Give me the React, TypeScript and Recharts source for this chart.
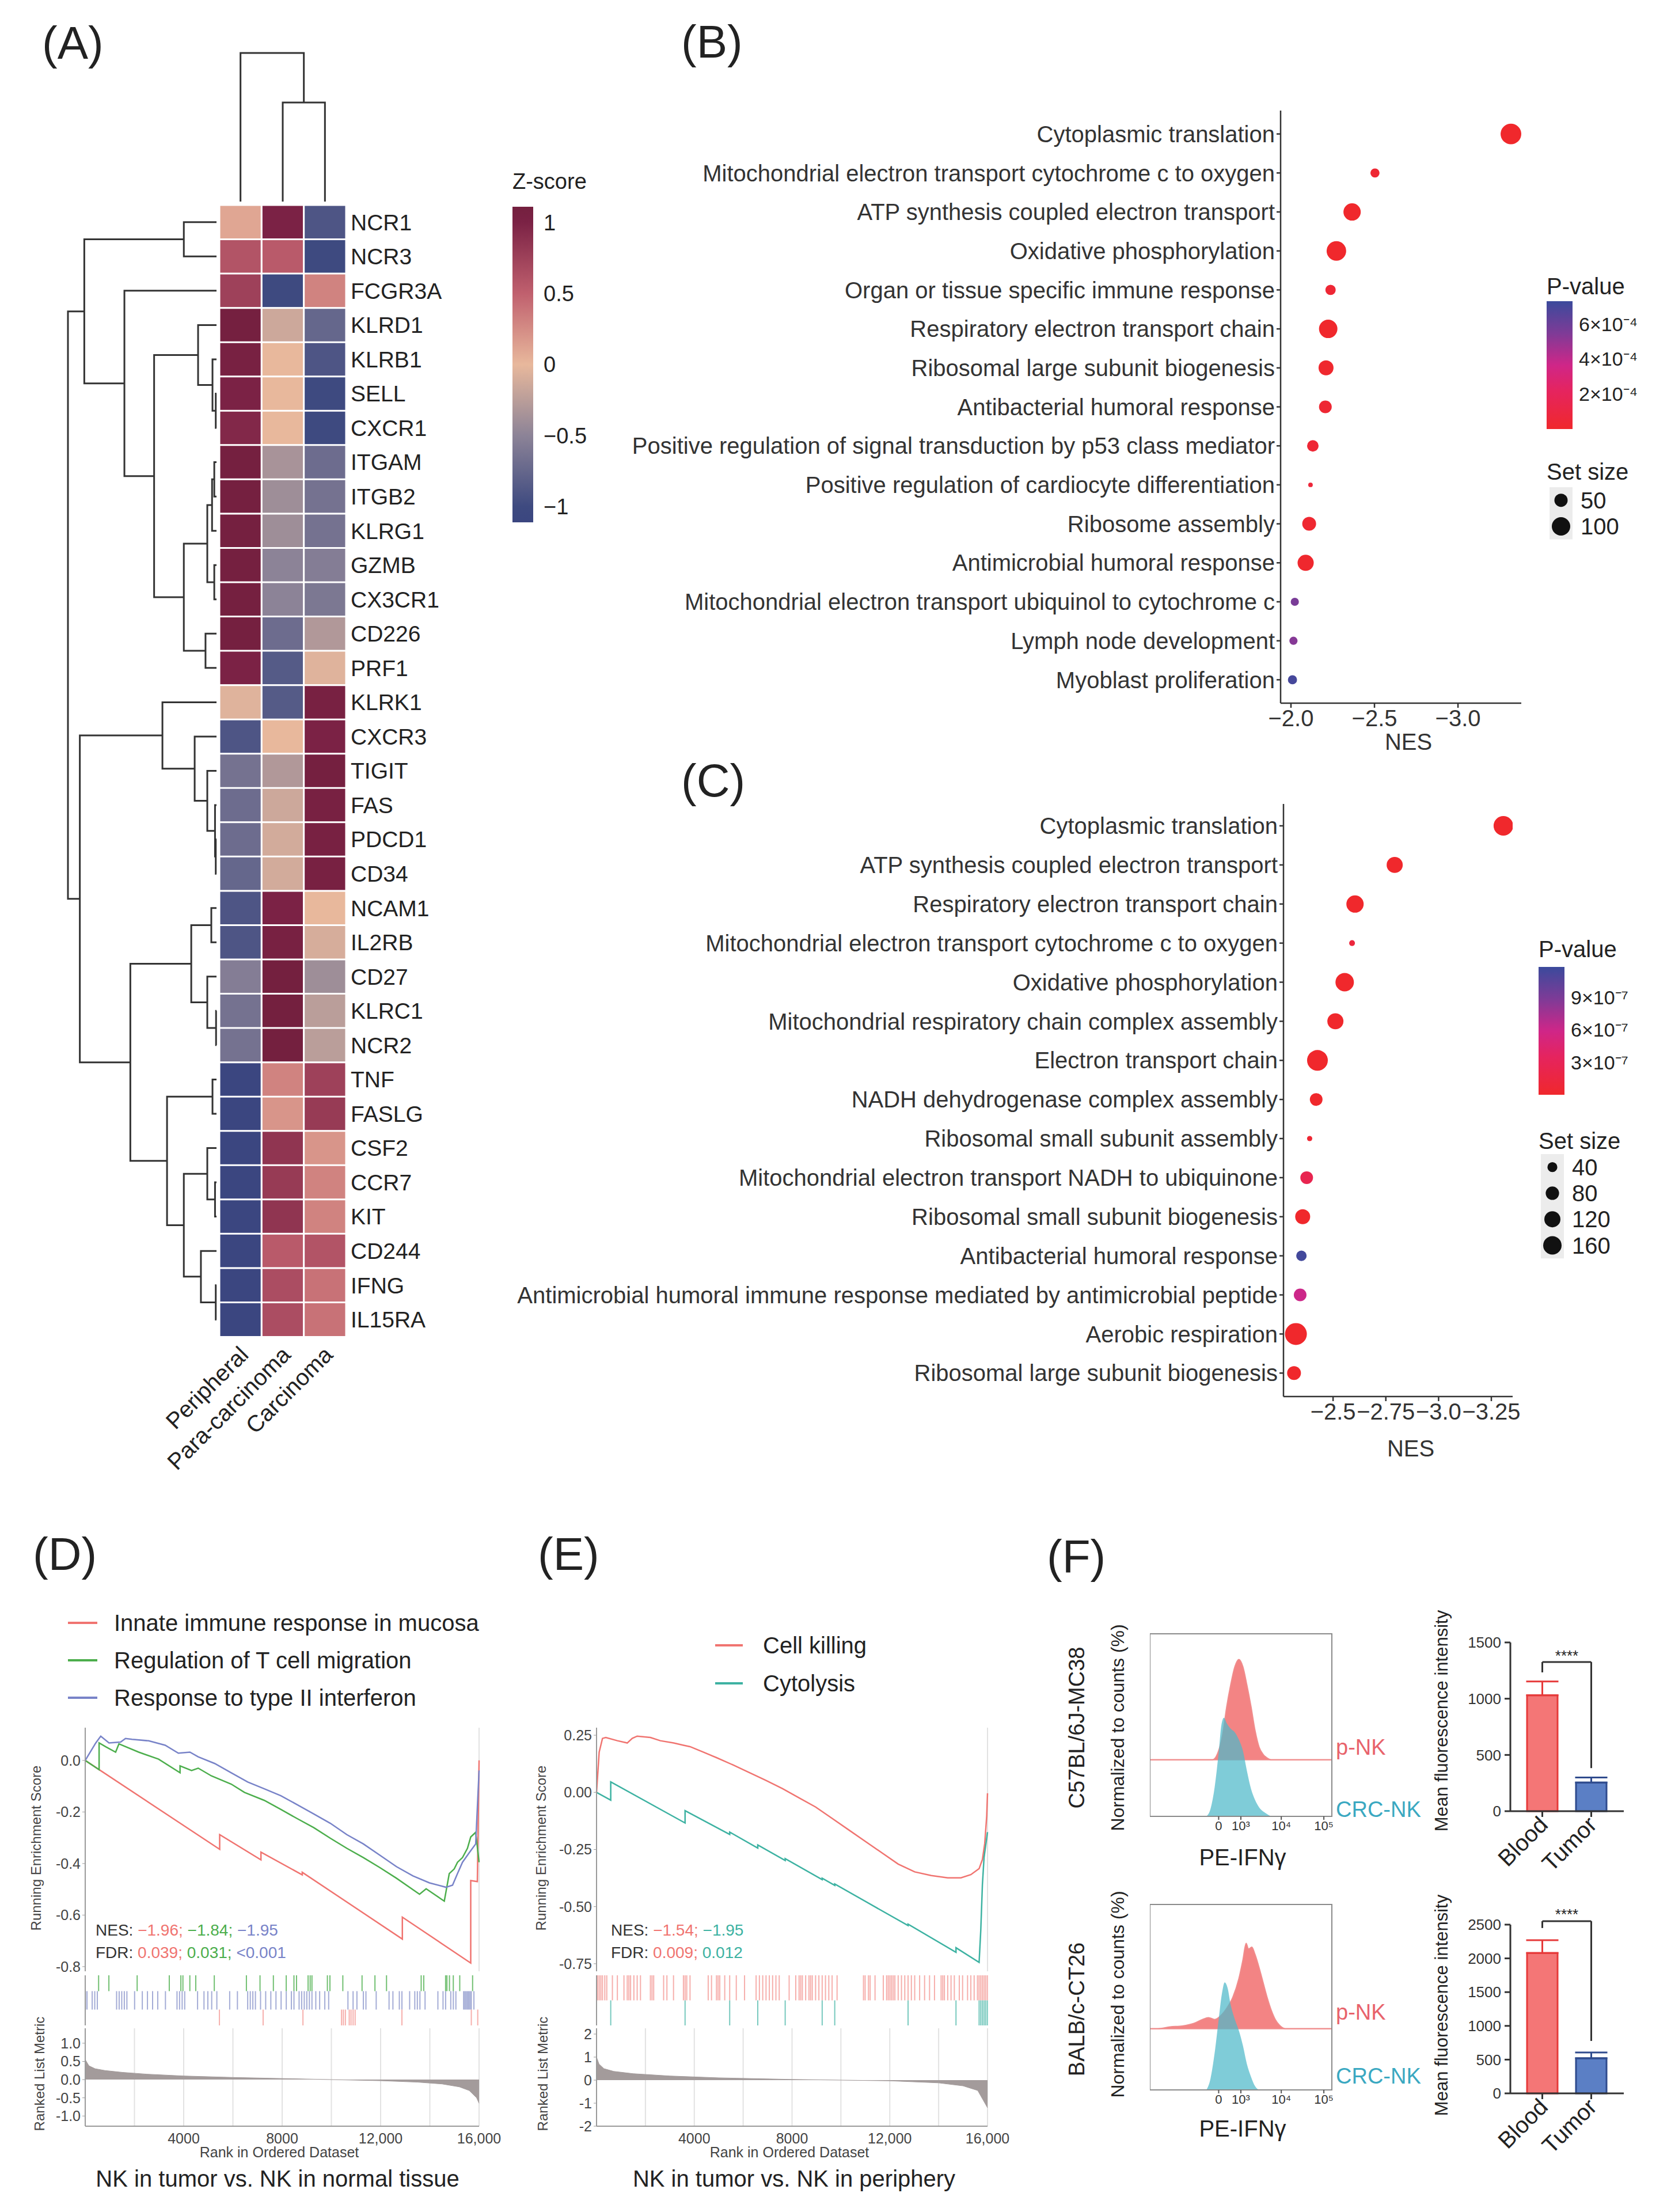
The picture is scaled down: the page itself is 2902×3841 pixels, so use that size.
import React from "react";
import {
  BarChart, Bar, Cell, XAxis, YAxis, ZAxis, LineChart, Line, ScatterChart, Scatter,
  AreaChart, Area, ReferenceArea, ReferenceLine, CartesianGrid, ErrorBar,
} from "recharts";

const FONT = '"Liberation Sans", Arial, Helvetica, sans-serif';
const INK = "#222";
const AXIS = "#333";
const GAXIS = "#9a9a9a";
const GTXT = "#444";

// ---------- (A) heatmap ----------
const genes = ["NCR1", "NCR3", "FCGR3A", "KLRD1", "KLRB1", "SELL", "CXCR1", "ITGAM", "ITGB2", "KLRG1", "GZMB", "CX3CR1", "CD226", "PRF1", "KLRK1", "CXCR3", "TIGIT", "FAS", "PDCD1", "CD34", "NCAM1", "IL2RB", "CD27", "KLRC1", "NCR2", "TNF", "FASLG", "CSF2", "CCR7", "KIT", "CD244", "IFNG", "IL15RA"];
const tissues = ["Peripheral", "Para-carcinoma", "Carcinoma"];
const zPeripheral = [0.1, 0.6, 0.75, 1.1, 1.05, 1.0, 0.95, 1.1, 1.1, 1.1, 1.1, 1.1, 1.1, 1.0, -0.05, -0.9, -0.65, -0.7, -0.7, -0.75, -0.9, -0.9, -0.55, -0.65, -0.65, -1.1, -1.1, -1.1, -1.1, -1.1, -1.1, -1.1, -1.1];
const zPara = [1.0, 0.55, -1.0, -0.15, 0.0, 0.0, 0.0, -0.35, -0.4, -0.4, -0.5, -0.5, -0.7, -0.85, -0.85, 0.0, -0.3, -0.15, -0.12, -0.12, 1.0, 1.05, 1.15, 1.15, 1.15, 0.3, 0.2, 0.85, 0.8, 0.85, 0.55, 0.65, 0.65];
const zCarcinoma = [-0.9, -1.0, 0.3, -0.75, -0.9, -1.0, -1.0, -0.7, -0.65, -0.65, -0.55, -0.6, -0.3, -0.05, 1.05, 1.0, 1.1, 1.05, 1.05, 1.05, 0.0, -0.1, -0.4, -0.25, -0.25, 0.75, 0.8, 0.2, 0.3, 0.3, 0.6, 0.4, 0.4];
const Z_MIN = -1.11;
const Z_MAX = 1.11;
const zTicks = [-1, -0.5, 0, 0.5, 1];
const zStops: [number, string][] = [[-1.11, "#3b4680"], [-1, "#3e4a80"], [-0.5, "#8c8397"], [0, "#e8b89c"], [0.5, "#c0606e"], [1, "#7b2245"], [1.11, "#74203f"]];
// hclust-style merges: negative = leaf (1-based row), positive = earlier merge, then height
const rowMerges: [number, number, number][] = [
  [-1, -2, 2.2], [-6, -7, 0.05], [-5, 2, 0.27], [-4, 3, 1.24], [-8, -9, 0.15], [5, -10, 0.3],
  [-11, -12, 0.15], [6, 7, 0.62], [-13, -14, 0.74], [8, 9, 2.2], [4, 10, 4.2], [-3, 11, 6.2],
  [1, 12, 8.9], [-19, -20, 0.05], [-18, 14, 0.1], [-17, 15, 0.62], [-16, 16, 1.47], [-15, 17, 3.64],
  [-21, -22, 0.35], [-24, -25, 0.03], [-23, 20, 0.62], [19, 21, 1.7], [-26, -27, 0.27], [-29, -30, 0.1],
  [-28, 24, 0.62], [-32, -33, 0.05], [-31, 26, 1.05], [25, 27, 2.2], [23, 28, 3.33], [22, 29, 5.8],
  [18, 30, 9.2], [13, 31, 10],
];
const colMerges: [number, number, number][] = [[-2, -3, 6.67], [-1, 1, 10]];

// ---------- (B) ----------
const termsB = ["Cytoplasmic translation", "Mitochondrial electron transport cytochrome c to oxygen", "ATP synthesis coupled electron transport", "Oxidative phosphorylation", "Organ or tissue specific immune response", "Respiratory electron transport chain", "Ribosomal large subunit biogenesis", "Antibacterial humoral response", "Positive regulation of signal transduction by p53 class mediator", "Positive regulation of cardiocyte differentiation", "Ribosome assembly", "Antimicrobial humoral response", "Mitochondrial electron transport ubiquinol to cytochrome c", "Lymph node development", "Myoblast proliferation"];
const nesB = [-3.317, -2.503, -2.366, -2.272, -2.237, -2.223, -2.21, -2.206, -2.131, -2.117, -2.109, -2.088, -2.023, -2.015, -2.009];
const sizeB = [127, 22, 88, 113, 29, 100, 65, 46, 37, 3, 55, 76, 17, 17, 22];
const pB = [1e-6, 3e-5, 2e-6, 1e-6, 4e-5, 2e-6, 1e-5, 3e-5, 4e-5, 6e-5, 2e-5, 1e-5, 5.6e-4, 5.3e-4, 7.0e-4];
const P_MAX_B = 7.3e-4;
const pTicksB = [2e-4, 4e-4, 6e-4];
const sizeLegendB = [50, 100];

// ---------- (C) ----------
const termsC = ["Cytoplasmic translation", "ATP synthesis coupled electron transport", "Respiratory electron transport chain", "Mitochondrial electron transport cytochrome c to oxygen", "Oxidative phosphorylation", "Mitochondrial respiratory chain complex assembly", "Electron transport chain", "NADH dehydrogenase complex assembly", "Ribosomal small subunit assembly", "Mitochondrial electron transport NADH to ubiquinone", "Ribosomal small subunit biogenesis", "Antibacterial humoral response", "Antimicrobial humoral immune response mediated by antimicrobial peptide", "Aerobic respiration", "Ribosomal large subunit biogenesis"];
const nesC = [-3.307, -2.792, -2.604, -2.59, -2.555, -2.511, -2.426, -2.42, -2.389, -2.375, -2.356, -2.35, -2.344, -2.324, -2.315];
const sizeC = [182, 120, 140, 8, 160, 120, 205, 71, 5, 71, 103, 45, 71, 229, 86];
const pC = [1e-9, 1e-9, 1e-9, 1.2e-7, 1e-9, 1e-9, 1e-9, 1e-9, 5e-8, 2.5e-7, 1e-9, 1.15e-6, 6e-7, 1e-9, 1e-9];
const P_MAX_C = 1.18e-6;
const pTicksC = [3e-7, 6e-7, 9e-7];
const sizeLegendC = [40, 80, 120, 160];
const pStops: [number, string][] = [[0, "#f0282c"], [0.3, "#e5245f"], [0.5, "#cf2688"], [0.75, "#7e3b97"], [1, "#3b4a9c"]];

// ---------- (D) ----------
const dInnate: [number, number][] = [[0, 0], [5462, -0.345], [5462, -0.288], [7139, -0.386], [7139, -0.356], [8817, -0.444], [8817, -0.434], [12883, -0.693], [12883, -0.608], [15661, -0.786], [15661, -0.466], [15930, -0.47], [16000, 0]];
const dTcell: [number, number][] = [[0, 0], [564, -0.036], [564, 0.068], [832, 0.053], [1235, 0.032], [1369, 0.064], [2174, 0.032], [2979, 0.005], [3852, -0.048], [3852, -0.021], [4321, -0.039], [4590, -0.03], [5126, -0.06], [5932, -0.092], [6468, -0.124], [7274, -0.155], [7945, -0.19], [8616, -0.226], [9287, -0.261], [9958, -0.302], [10629, -0.341], [11300, -0.377], [11971, -0.416], [12642, -0.457], [13581, -0.519], [13850, -0.498], [14587, -0.546], [14789, -0.439], [14990, -0.421], [15124, -0.395], [15326, -0.377], [15527, -0.341], [15661, -0.297], [15862, -0.279], [16000, -0.395]];
const dIfn: [number, number][] = [[0, 0], [429, 0.068], [631, 0.094], [966, 0.068], [1436, 0.071], [1637, 0.085], [1906, 0.082], [2577, 0.076], [3248, 0.059], [3784, 0.028], [4254, 0.032], [4590, 0.014], [5261, -0.012], [5932, -0.048], [6603, -0.084], [7274, -0.11], [7945, -0.137], [8616, -0.172], [9287, -0.208], [9958, -0.244], [10629, -0.288], [11300, -0.324], [11971, -0.368], [12642, -0.412], [13313, -0.448], [13984, -0.475], [14655, -0.492], [14923, -0.484], [15124, -0.439], [15326, -0.395], [15594, -0.359], [15862, -0.324], [16000, -0.039]];
const dHitsTcell = [544, 961, 2110, 3415, 3885, 3969, 4250, 4491, 5243, 6548, 7101, 7644, 8166, 8479, 8584, 9054, 9138, 9211, 9838, 9941, 10465, 11246, 11770, 12240, 13648, 13753, 14640, 14694, 14797, 14953, 15215, 15737];
const dHitsIfn = [10, 74, 283, 387, 492, 1275, 1379, 1484, 1588, 1693, 2006, 2319, 2528, 2737, 2946, 3259, 3729, 3833, 3938, 4042, 4564, 4825, 4982, 5138, 5347, 5869, 6183, 6600, 6705, 6809, 6914, 7122, 7331, 7540, 7749, 7958, 8167, 8375, 8480, 8689, 8793, 8898, 9002, 9106, 9211, 9367, 9524, 9733, 9890, 10673, 10882, 11038, 11299, 11404, 11821, 12343, 12500, 12761, 12866, 13179, 13388, 13492, 13597, 13806, 14327, 14536, 14641, 14850, 14954, 15058, 15372, 15424, 15476, 15529, 15581, 15633, 15685, 15790];
const dHitsInnate = [5452, 7227, 8845, 10412, 10485, 10568, 10725, 10798, 10882, 10965, 12866, 15685, 15946];
const dMetric: [number, number][] = [[0, 0.55], [150, 0.38], [400, 0.3], [800, 0.25], [1500, 0.2], [2500, 0.15], [4000, 0.1], [6000, 0.06], [8000, 0.03], [10000, 0], [12000, -0.03], [13500, -0.07], [14500, -0.12], [15200, -0.2], [15600, -0.3], [15900, -0.5], [16000, -0.65]];

// ---------- (E) ----------
const eKilling: [number, number][] = [[0, 0], [108, 0.176], [243, 0.236], [378, 0.24], [852, 0.226], [1257, 0.216], [1460, 0.236], [1663, 0.246], [2204, 0.24], [2609, 0.226], [3150, 0.216], [3556, 0.206], [3826, 0.2], [4367, 0.176], [4908, 0.152], [5584, 0.12], [6260, 0.086], [6936, 0.052], [7612, 0.016], [8288, -0.024], [8964, -0.064], [9640, -0.114], [10316, -0.164], [10992, -0.214], [11668, -0.264], [12344, -0.314], [13020, -0.348], [13696, -0.364], [14372, -0.374], [14912, -0.374], [15318, -0.36], [15656, -0.334], [15791, -0.294], [15886, -0.224], [15967, -0.104], [16000, -0.004]];
const eCytolysis: [number, number][] = [[0, 0], [581, -0.034], [581, 0.046], [3623, -0.134], [3623, -0.08], [5449, -0.184], [5449, -0.174], [6598, -0.244], [6598, -0.23], [7720, -0.298], [7720, -0.29], [9234, -0.382], [9234, -0.376], [9748, -0.407], [9748, -0.401], [12749, -0.583], [12749, -0.577], [14710, -0.7], [14710, -0.68], [15656, -0.744], [15724, -0.604], [15791, -0.404], [15859, -0.284], [16000, -0.174]];
const eHitsKilling = [5, 41, 108, 176, 243, 338, 419, 649, 852, 1122, 1257, 1325, 1393, 1528, 1663, 1798, 2204, 2271, 2339, 2745, 2880, 3150, 3556, 3623, 3691, 3826, 4570, 4705, 4908, 4975, 5043, 5246, 5449, 5719, 6057, 6530, 6665, 6801, 6936, 7071, 7206, 7341, 7476, 7882, 8153, 8288, 8355, 8423, 8558, 8693, 8761, 8829, 8964, 9099, 9234, 9369, 9505, 9640, 9843, 10924, 10992, 11127, 11195, 11397, 11735, 11871, 11938, 12006, 12073, 12141, 12209, 12344, 12479, 12614, 12749, 12884, 13020, 13222, 13425, 13628, 13831, 14101, 14169, 14236, 14372, 14507, 14642, 14845, 14980, 15183, 15318, 15453, 15589, 15656, 15724, 15791, 15859, 15926, 15994];
const eHitsCytolysis = [581, 3623, 5449, 6598, 7720, 9234, 9748, 12749, 14710, 15656, 15724, 15791, 15859, 15926, 15994];
const eMetric: [number, number][] = [[0, 1.0], [100, 0.7], [300, 0.5], [700, 0.38], [1500, 0.28], [3000, 0.18], [5000, 0.1], [8000, 0.03], [10000, 0], [12000, -0.03], [14000, -0.12], [15000, -0.25], [15600, -0.45], [16000, -1.2]];
const rankGrid = [2000, 4000, 6000, 8000, 10000, 12000, 14000, 16000];

// ---------- (F) ----------
const histTicks = [37.8, 50, 72.2, 95.6];
const histTickLabels = ["0", "10³", "10⁴", "10⁵"];
const PNK_BASE1 = 31;
const PNK_BASE2 = 33;
const pnk1: [number, number][] = [[0, 31], [34.4, 31], [37.8, 36], [40, 45], [42.2, 60], [44.4, 72], [46.7, 82], [48.9, 86], [51.1, 82], [53.3, 72], [55.6, 60], [57.8, 47], [60, 38], [62.2, 34], [64.4, 32], [66.7, 31], [100, 31]];
const crc1: [number, number][] = [[31.1, 0], [33.3, 4], [35.6, 16], [37.8, 35], [39.3, 50], [40.7, 54], [42.2, 51], [44.4, 48], [46.7, 46], [48.9, 42], [51.1, 36], [53.3, 25], [55.6, 15], [57.8, 9], [60, 5], [63.3, 2], [66.7, 0]];
const pnk2: [number, number][] = [[0, 33], [4.4, 33], [11.1, 34], [17.8, 34.5], [24.4, 36], [28.9, 38], [32.2, 39], [35.6, 38], [38.9, 40], [42.2, 44], [45.6, 50], [48.9, 60], [51.1, 70], [52.9, 79], [54.2, 76], [56, 77], [57.8, 73], [60, 66], [62.2, 58], [64.4, 50], [66.7, 43], [68.9, 38], [71.1, 35], [74.4, 33], [100, 33]];
const crc2: [number, number][] = [[31.1, 0], [33.3, 6], [35.6, 20], [37.8, 38], [39.6, 52], [41.1, 58], [42.7, 55], [44.4, 46], [46.7, 38], [48.9, 32], [51.1, 24], [53.3, 14], [55.6, 7], [57.8, 2], [60, 0]];
const mfiGroups = ["Blood", "Tumor"];
const mfi1 = [1030, 255];
const mfi1Err = [123, 45];
const mfi2 = [2080, 520];
const mfi2Err = [190, 85];

// ---------- helpers ----------
const hexToRgb = (h: string) => [1, 3, 5].map((i) => parseInt(h.slice(i, i + 2), 16));
function ramp(stops: [number, string][], v: number) {
  if (v <= stops[0][0]) return stops[0][1];
  for (let i = 1; i < stops.length; i++) {
    if (v <= stops[i][0]) {
      const [a, ca] = stops[i - 1];
      const [b, cb] = stops[i];
      const t = (v - a) / (b - a);
      const A = hexToRgb(ca), B = hexToRgb(cb);
      return `rgb(${A.map((x, j) => Math.round(x + (B[j] - x) * t)).join(",")})`;
    }
  }
  return stops[stops.length - 1][1];
}
const zColor = (z: number) => ramp(zStops, z);
const pColor = (t: number) => ramp(pStops, t);
const areaB = (s: number) => 26 + 7.78 * s;
const areaC = (s: number) => 232 + 4.77 * (s - 40);
const minus = (s: string) => s.replace("-", "−");

function dendroPoints(merges: [number, number, number][]) {
  const pos: number[] = [];
  const hgt: number[] = [];
  const P = (id: number) => (id < 0 ? -id - 0.5 : pos[id - 1]);
  const H = (id: number) => (id < 0 ? 0 : hgt[id - 1]);
  const pts: { pos: number | null; h: number | null }[] = [];
  merges.forEach(([a, b, h]) => {
    pts.push({ pos: P(a), h: H(a) }, { pos: P(a), h }, { pos: P(b), h }, { pos: P(b), h: H(b) }, { pos: null, h: null });
    pos.push((P(a) + P(b)) / 2);
    hgt.push(h);
  });
  return pts;
}
const rugPoints = (hits: number[], lo: number, hi: number) =>
  hits.flatMap((r) => [{ rank: r, v: lo }, { rank: r, v: hi }, { rank: r, v: null }]);
const toES = (pairs: [number, number][]) => pairs.map(([rank, es]) => ({ rank, es }));

function Pos({ x, y, children }: any) {
  return <div style={{ position: "absolute", left: x, top: y }}>{children}</div>;
}
function Txt({ x, y, size, children, anchor = "start", rotate = 0, color = INK }: any) {
  const tx = anchor === "start" ? "0%" : anchor === "middle" ? "-50%" : "-100%";
  return (
    <div style={{ position: "absolute", left: x, top: y, fontSize: size, color, whiteSpace: "nowrap", lineHeight: 1, transform: `translate(${tx}, -50%)${rotate ? ` rotate(${rotate}deg)` : ""}` }}>
      {children}
    </div>
  );
}
function Swatch({ x, y, w, color }: any) {
  return <div style={{ position: "absolute", left: x, top: y - 2, width: w, height: 4, background: color }} />;
}

// ---------- (A) components ----------
function ColTick({ x, y, payload }: any) {
  const label = tissues[Math.floor(payload.value)];
  const ax = x + 16, ay = y + 26;
  return (
    <text x={ax} y={ay} transform={`rotate(-45 ${ax} ${ay})`} textAnchor="end" fontSize={40} fill={INK}>{label}</text>
  );
}

function Heatmap() {
  const rows = genes.map((g, i) => ({ gene: g, c0: 1, c1: 1, c2: 1, z: [zPeripheral[i], zPara[i], zCarcinoma[i]] }));
  return (
    <BarChart layout="vertical" width={600} height={2215} data={rows} margin={{ top: 10, right: 0, bottom: 0, left: 120 }} barCategoryGap={0}>
      <XAxis type="number" domain={[0, 3]} ticks={[0.5, 1.5, 2.5]} interval={0} height={240} axisLine={false} tickLine={false} tick={(p: any) => <ColTick {...p} />} />
      <YAxis type="category" dataKey="gene" orientation="right" width={260} interval={0} axisLine={false} tickLine={false} tickSize={0} tickMargin={8} tick={{ fontSize: 39, fill: INK }} />
      {[0, 1, 2].map((k) => (
        <Bar key={k} dataKey={`c${k}`} stackId="h" stroke="#fff" strokeWidth={3} isAnimationActive={false}>
          {rows.map((r, i) => <Cell key={i} fill={zColor(r.z[k])} />)}
        </Bar>
      ))}
    </BarChart>
  );
}

function RowDendro() {
  return (
    <LineChart width={290} height={1985} margin={{ top: 10, right: 14, bottom: 10, left: 18 }}>
      <XAxis type="number" dataKey="h" domain={[0, 10]} reversed hide />
      <YAxis type="number" domain={[0, genes.length]} reversed hide />
      <Line data={dendroPoints(rowMerges)} dataKey="pos" stroke="#333" strokeWidth={3} dot={false} isAnimationActive={false} />
    </LineChart>
  );
}

function ColDendro() {
  return (
    <LineChart width={220} height={268} margin={{ top: 5, right: 0, bottom: 5, left: 0 }}>
      <XAxis type="number" dataKey="pos" domain={[0, 3]} hide />
      <YAxis type="number" domain={[0, 10]} hide />
      <Line data={dendroPoints(colMerges)} dataKey="h" stroke="#333" strokeWidth={3} dot={false} isAnimationActive={false} />
    </LineChart>
  );
}

function ZBar() {
  return (
    <BarChart width={136} height={567} data={[{ k: "z", v: [Z_MIN, Z_MAX] }]} margin={{ top: 9, right: 0, bottom: 10, left: 0 }} barCategoryGap={0}>
      <defs>
        <linearGradient id="zgrad" x1="0" y1="0" x2="0" y2="1">
          {zStops.slice().reverse().map(([z, c]) => <stop key={z} offset={(Z_MAX - z) / (Z_MAX - Z_MIN)} stopColor={c} />)}
        </linearGradient>
      </defs>
      <XAxis type="category" dataKey="k" hide />
      <YAxis type="number" orientation="right" domain={[Z_MIN, Z_MAX]} ticks={zTicks} interval={0} width={100} axisLine={false} tickLine={false} tickSize={0} tickMargin={18} tickFormatter={(v: number) => minus(String(v))} tick={{ fontSize: 38, fill: INK }} />
      <Bar dataKey="v" fill="url(#zgrad)" isAnimationActive={false} />
    </BarChart>
  );
}

// ---------- (B)/(C) components ----------
function DotPlot({ terms, nes, sizes, pvals, pmax, domain, yDomain, ticks, fmt, yWidth, plotW, top, area }: any) {
  const data = terms.map((t: string, i: number) => ({ row: i, nes: nes[i], size: sizes[i], p: pvals[i] }));
  const sMin = Math.min(...sizes), sMax = Math.max(...sizes);
  return (
    <ScatterChart width={yWidth + plotW + 60} height={top + 1029 + 110} margin={{ top, right: 60, bottom: 10, left: 0 }}>
      <XAxis type="number" dataKey="nes" domain={domain} reversed allowDataOverflow ticks={ticks} interval={0} tickFormatter={fmt} height={100} axisLine={{ stroke: AXIS, strokeWidth: 2.5 }} tickLine={{ stroke: AXIS, strokeWidth: 2.5 }} tickSize={8} tickMargin={4} tick={{ fontSize: 40, fill: AXIS }} />
      <YAxis type="number" dataKey="row" domain={yDomain} reversed allowDataOverflow ticks={terms.map((_: string, i: number) => i)} interval={0} tickFormatter={(i: number) => terms[i]} width={yWidth} axisLine={{ stroke: AXIS, strokeWidth: 2.5 }} tickLine={{ stroke: AXIS, strokeWidth: 2.5 }} tickSize={7} tickMargin={3} tick={{ fontSize: 40, fill: AXIS }} />
      <ZAxis type="number" dataKey="size" domain={[sMin, sMax]} range={[area(sMin), area(sMax)]} />
      <Scatter data={data} isAnimationActive={false}>
        {data.map((d: any, i: number) => <Cell key={i} fill={pColor(d.p / pmax)} />)}
      </Scatter>
    </ScatterChart>
  );
}

function PBar({ id, pmax, ticks, exp }: any) {
  return (
    <BarChart width={195} height={242} data={[{ k: "p", v: [0, pmax] }]} margin={{ top: 10, right: 0, bottom: 10, left: 0 }} barCategoryGap={0}>
      <defs>
        <linearGradient id={id} x1="0" y1="0" x2="0" y2="1">
          {pStops.slice().reverse().map(([t, c]) => <stop key={t} offset={1 - t} stopColor={c} />)}
        </linearGradient>
      </defs>
      <XAxis type="category" dataKey="k" hide />
      <YAxis type="number" orientation="right" domain={[0, pmax]} ticks={ticks} interval={0} width={150} axisLine={false} tickLine={false} tickSize={0} tickMargin={11} tickFormatter={(v: number) => `${Math.round(v * Math.pow(10, exp))}×10⁻${exp === 4 ? "⁴" : "⁷"}`} tick={{ fontSize: 34, fill: INK }} />
      <Bar dataKey="v" fill={`url(#${id})`} isAnimationActive={false} />
    </BarChart>
  );
}

function SizeLegend({ sizes, area }: any) {
  const data = sizes.map((s: number, i: number) => ({ x: 0, row: i, size: s }));
  const n = sizes.length;
  return (
    <ScatterChart width={160} height={20 + n * 45.3} margin={{ top: 10, right: 0, bottom: 10, left: 0 }}>
      <CartesianGrid fill="#ececec" horizontal={false} vertical={false} stroke="none" />
      <XAxis type="number" dataKey="x" domain={[-1, 1]} hide />
      <YAxis type="number" dataKey="row" domain={[-0.5, n - 0.5]} reversed ticks={sizes.map((_: number, i: number) => i)} interval={0} tickFormatter={(i: number) => String(sizes[i])} orientation="right" width={120} axisLine={false} tickLine={false} tickSize={0} tickMargin={14} tick={{ fontSize: 40, fill: INK }} />
      <ZAxis type="number" dataKey="size" domain={[sizes[0], sizes[n - 1]]} range={[area(sizes[0]), area(sizes[n - 1])]} />
      <Scatter data={data} fill="#111" isAnimationActive={false} />
    </ScatterChart>
  );
}

// ---------- (D)/(E) GSEA ----------
function Gsea({ left, yw, plotW, series, esDomain, esTicks, esFmt, rugs, rugMax, metric, mDomain, mTicks, mFmt }: any) {
  const W = yw + plotW + 60;
  const mg = { right: 60, left: 0 };
  const yAxisProps = { width: yw, axisLine: { stroke: GAXIS, strokeWidth: 2 }, tickLine: { stroke: GAXIS }, tickSize: 5, tickMargin: 3, tick: { fontSize: 25, fill: GTXT } };
  return (
    <>
      <Pos x={left} y={2980}>
        <LineChart width={W} height={463} margin={{ top: 20, bottom: 20, ...mg }}>
          <CartesianGrid horizontal={false} stroke="#e2e2e2" strokeWidth={2} />
          <XAxis type="number" dataKey="rank" domain={[0, 16000]} ticks={rankGrid} height={0} tick={false} axisLine={false} tickLine={false} />
          <YAxis type="number" domain={esDomain} ticks={esTicks} interval={0} allowDataOverflow tickFormatter={esFmt} {...yAxisProps} />
          {series.map((s: any) => (
            <Line key={s.name} data={toES(s.data)} dataKey="es" stroke={s.color} strokeWidth={2.5} dot={false} isAnimationActive={false} />
          ))}
        </LineChart>
      </Pos>
      <Pos x={left} y={3420}>
        <LineChart width={W} height={97} margin={{ top: 10, bottom: 0, ...mg }}>
          <XAxis type="number" dataKey="rank" domain={[0, 16000]} height={0} tick={false} axisLine={false} tickLine={false} />
          <YAxis type="number" domain={[0, rugMax]} width={yw} tick={false} tickLine={false} axisLine={{ stroke: GAXIS, strokeWidth: 2 }} />
          {rugs.map((r: any) => (
            <Line key={r.name} data={rugPoints(r.hits, r.lo, r.hi)} dataKey="v" stroke={r.color} strokeOpacity={r.op} strokeWidth={2} dot={false} isAnimationActive={false} />
          ))}
        </LineChart>
      </Pos>
      <Pos x={left} y={3502}>
        <AreaChart width={W} height={230} margin={{ top: 20, bottom: 0, ...mg }}>
          <CartesianGrid horizontal={false} stroke="#e2e2e2" strokeWidth={2} />
          <XAxis type="number" dataKey="rank" domain={[0, 16000]} ticks={rankGrid} interval={0} height={40} axisLine={{ stroke: GAXIS, strokeWidth: 2 }} tickLine={false} tickMargin={6} tick={{ fontSize: 25, fill: GTXT }} tickFormatter={(v: number) => (v % 4000 === 0 ? (v >= 10000 ? v.toLocaleString("en-US") : String(v)) : "")} />
          <YAxis type="number" domain={mDomain} ticks={mTicks} interval={0} allowDataOverflow tickFormatter={mFmt} {...yAxisProps} />
          <Area data={metric.map(([rank, m]: [number, number]) => ({ rank, m }))} dataKey="m" baseValue={0} type="linear" fill="#a39b9b" stroke="#a39b9b" fillOpacity={1} isAnimationActive={false} />
        </AreaChart>
      </Pos>
    </>
  );
}

// ---------- (F) ----------
function Histo({ pnk, crc, base, boxH }: any) {
  return (
    <AreaChart width={318} height={10 + boxH + 40} margin={{ top: 10, right: 2, bottom: 0, left: 0 }}>
      <XAxis type="number" dataKey="x" domain={[0, 100]} ticks={histTicks} interval={0} tickFormatter={(v: number) => histTickLabels[histTicks.indexOf(v)]} height={40} axisLine={false} tickLine={{ stroke: "#555", strokeWidth: 2 }} tickSize={6} tickMargin={2} tick={{ fontSize: 22, fill: "#333" }} />
      <YAxis type="number" domain={[0, 100]} hide />
      <Area data={pnk.map(([x, y]: [number, number]) => ({ x, band: [base, y] }))} dataKey="band" type="monotone" fill="#f27a7a" fillOpacity={0.92} stroke="#f08c8c" strokeWidth={2} isAnimationActive={false} />
      <Area data={crc.map(([x, y]: [number, number]) => ({ x, y }))} dataKey="y" baseValue={0} type="monotone" fill="#4db8c9" fillOpacity={0.72} stroke="none" isAnimationActive={false} />
      <ReferenceArea x1={0} x2={100} y1={0} y2={100} fill="none" stroke="#8a8a8a" strokeWidth={2} ifOverflow="visible" />
    </AreaChart>
  );
}

function SlantTick({ x, y, payload }: any) {
  const ax = x + 12, ay = y + 14;
  return <text x={ax} y={ay} transform={`rotate(-45 ${ax} ${ay})`} textAnchor="end" fontSize={40} fill={INK}>{payload.value}</text>;
}

function MfiBars({ vals, errs, max, ticks, brackets }: any) {
  const data = [
    { g: mfiGroups[0], blood: vals[0], bloodErr: [0, errs[0]] },
    { g: mfiGroups[1], tumor: vals[1], tumorErr: [0, errs[1]] },
  ];
  const [lo, top, rlo] = brackets;
  return (
    <BarChart width={350} height={20 + 293 + 120} data={data} margin={{ top: 20, right: 10, bottom: 0, left: 0 }}>
      <XAxis type="category" dataKey="g" height={120} padding={{ left: 13, right: 14 }} interval={0} axisLine={{ stroke: AXIS, strokeWidth: 3 }} tickLine={{ stroke: AXIS, strokeWidth: 3 }} tickSize={10} tick={(p: any) => <SlantTick {...p} />} />
      <YAxis type="number" domain={[0, max]} ticks={ticks} interval={0} width={143} axisLine={{ stroke: AXIS, strokeWidth: 3 }} tickLine={{ stroke: AXIS, strokeWidth: 3 }} tickSize={10} tickMargin={6} tick={{ fontSize: 26, fill: AXIS }} />
      <Bar dataKey="blood" stackId="s" barSize={53} fill="#f47676" stroke="#e63a3a" strokeWidth={3} isAnimationActive={false}>
        <ErrorBar dataKey="bloodErr" width={28} stroke="#e63a3a" strokeWidth={3} direction="y" />
      </Bar>
      <Bar dataKey="tumor" stackId="s" barSize={53} fill="#5b7fc5" stroke="#2f4b8d" strokeWidth={3} isAnimationActive={false}>
        <ErrorBar dataKey="tumorErr" width={28} stroke="#2f4b8d" strokeWidth={3} direction="y" />
      </Bar>
      <ReferenceLine segment={[{ x: "Blood", y: lo }, { x: "Blood", y: top }]} stroke={AXIS} strokeWidth={3} ifOverflow="visible" />
      <ReferenceLine segment={[{ x: "Blood", y: top }, { x: "Tumor", y: top }]} stroke={AXIS} strokeWidth={3} ifOverflow="visible" />
      <ReferenceLine segment={[{ x: "Tumor", y: top }, { x: "Tumor", y: rlo }]} stroke={AXIS} strokeWidth={3} ifOverflow="visible" />
    </BarChart>
  );
}

const C_RED = "#f07470", C_GREEN = "#4cae4c", C_BLUE = "#7883c8", C_TEAL = "#3db2a2";

export default function App() {
  return (
    <div style={{ position: "relative", width: 2902, height: 3841, background: "#fff", fontFamily: FONT, color: INK, overflow: "hidden" }}>
      <style>{"body{margin:0;}"}</style>

      {/* (A) */}
      <Txt x={73} y={75} size={80}>(A)</Txt>
      <Pos x={381} y={87}><ColDendro /></Pos>
      <Pos x={100} y={346}><RowDendro /></Pos>
      <Pos x={261} y={346}><Heatmap /></Pos>
      <Txt x={890} y={315} size={38}>Z-score</Txt>
      <Pos x={890} y={350}><ZBar /></Pos>

      {/* (B) */}
      <Txt x={1183} y={73} size={80}>(B)</Txt>
      <Pos x={860} y={150}>
        <DotPlot terms={termsB} nes={nesB} sizes={sizeB} pvals={pB} pmax={P_MAX_B} domain={[-3.379, -1.938]} yDomain={[-0.6, 14.6]} ticks={[-3, -2.5, -2]} fmt={(v: number) => minus(v.toFixed(1))} yWidth={1364} plotW={418} top={42} area={areaB} />
      </Pos>
      <Txt x={2446} y={1288} size={40} anchor="middle" color={AXIS}>NES</Txt>
      <Txt x={2686} y={497} size={40}>P-value</Txt>
      <Pos x={2686} y={513}><PBar id="pgradB" pmax={P_MAX_B} ticks={pTicksB} exp={4} /></Pos>
      <Txt x={2686} y={819} size={40}>Set size</Txt>
      <Pos x={2691} y={836}><SizeLegend sizes={sizeLegendB} area={areaB} /></Pos>

      {/* (C) */}
      <Txt x={1183} y={1356} size={80}>(C)</Txt>
      <Pos x={860} y={1350}>
        <DotPlot terms={termsC} nes={nesC} sizes={sizeC} pvals={pC} pmax={P_MAX_C} domain={[-3.351, -2.265]} yDomain={[-0.56, 14.6]} ticks={[-3.25, -3, -2.75, -2.5]} fmt={(v: number) => minus(Math.abs(v * 2 - Math.round(v * 2)) < 1e-9 ? v.toFixed(1) : v.toFixed(2))} yWidth={1369} plotW={398} top={46} area={areaC} />
      </Pos>
      <Txt x={2450} y={2515} size={40} anchor="middle" color={AXIS}>NES</Txt>
      <Txt x={2672} y={1648} size={40}>P-value</Txt>
      <Pos x={2672} y={1669}><PBar id="pgradC" pmax={P_MAX_C} ticks={pTicksC} exp={7} /></Pos>
      <Txt x={2672} y={1981} size={40}>Set size</Txt>
      <Pos x={2676} y={1994}><SizeLegend sizes={sizeLegendC} area={areaC} /></Pos>

      {/* (D) */}
      <Txt x={57} y={2699} size={80}>(D)</Txt>
      <Swatch x={118} y={2818} w={51} color={C_RED} />
      <Swatch x={118} y={2883} w={51} color={C_GREEN} />
      <Swatch x={118} y={2948} w={51} color={C_BLUE} />
      <Txt x={198} y={2818} size={40}>Innate immune response in mucosa</Txt>
      <Txt x={198} y={2883} size={40}>Regulation of T cell migration</Txt>
      <Txt x={198} y={2948} size={40}>Response to type II interferon</Txt>
      <Gsea left={0} yw={148} plotW={684}
        series={[{ name: "innate", data: dInnate, color: C_RED }, { name: "tcell", data: dTcell, color: C_GREEN }, { name: "ifn", data: dIfn, color: C_BLUE }]}
        esDomain={[-0.818, 0.127]} esTicks={[-0.8, -0.6, -0.4, -0.2, 0]} esFmt={(v: number) => v.toFixed(1)}
        rugs={[{ name: "g", hits: dHitsTcell, lo: 2.05, hi: 3, color: "#4fb04f", op: 0.8 }, { name: "b", hits: dHitsIfn, lo: 0.95, hi: 2.05, color: "#5a68b4", op: 0.55 }, { name: "r", hits: dHitsInnate, lo: 0, hi: 0.95, color: "#f07a74", op: 0.6 }]}
        rugMax={3} metric={dMetric} mDomain={[-1.28, 1.41]} mTicks={[-1, -0.5, 0, 0.5, 1]} mFmt={(v: number) => v.toFixed(1)} />
      <Txt x={63} y={3209} size={24} anchor="middle" rotate={-90} color={GTXT}>Running Enrichment Score</Txt>
      <Txt x={69} y={3601} size={24} anchor="middle" rotate={-90} color={GTXT}>Ranked List Metric</Txt>
      <Txt x={485} y={3737} size={25} anchor="middle" color={GTXT}>Rank in Ordered Dataset</Txt>
      <Txt x={482} y={3783} size={40} anchor="middle">NK in tumor vs. NK in normal tissue</Txt>
      <Txt x={166} y={3352} size={28} color="#333">NES: <span style={{ color: C_RED }}>−1.96;</span> <span style={{ color: C_GREEN }}>−1.84;</span> <span style={{ color: C_BLUE }}>−1.95</span></Txt>
      <Txt x={166} y={3391} size={28} color="#333">FDR: <span style={{ color: C_RED }}>0.039;</span> <span style={{ color: C_GREEN }}>0.031;</span> <span style={{ color: C_BLUE }}>&lt;0.001</span></Txt>

      {/* (E) */}
      <Txt x={934} y={2699} size={80}>(E)</Txt>
      <Swatch x={1242} y={2857} w={48} color={C_RED} />
      <Swatch x={1242} y={2923} w={48} color={C_TEAL} />
      <Txt x={1325} y={2857} size={40}>Cell killing</Txt>
      <Txt x={1325} y={2923} size={40}>Cytolysis</Txt>
      <Gsea left={900} yw={136} plotW={679}
        series={[{ name: "kill", data: eKilling, color: C_RED }, { name: "cyto", data: eCytolysis, color: C_TEAL }]}
        esDomain={[-0.783, 0.283]} esTicks={[-0.75, -0.5, -0.25, 0, 0.25]} esFmt={(v: number) => v.toFixed(2)}
        rugs={[{ name: "r", hits: eHitsKilling, lo: 1, hi: 2, color: "#f07a74", op: 0.6 }, { name: "t", hits: eHitsCytolysis, lo: 0, hi: 1, color: C_TEAL, op: 0.7 }]}
        rugMax={2} metric={eMetric} mDomain={[-2, 2.25]} mTicks={[-2, -1, 0, 1, 2]} mFmt={(v: number) => String(v)} />
      <Txt x={940} y={3209} size={24} anchor="middle" rotate={-90} color={GTXT}>Running Enrichment Score</Txt>
      <Txt x={943} y={3601} size={24} anchor="middle" rotate={-90} color={GTXT}>Ranked List Metric</Txt>
      <Txt x={1371} y={3737} size={25} anchor="middle" color={GTXT}>Rank in Ordered Dataset</Txt>
      <Txt x={1379} y={3783} size={40} anchor="middle">NK in tumor vs. NK in periphery</Txt>
      <Txt x={1061} y={3352} size={28} color="#333">NES: <span style={{ color: C_RED }}>−1.54;</span> <span style={{ color: C_TEAL }}>−1.95</span></Txt>
      <Txt x={1061} y={3391} size={28} color="#333">FDR: <span style={{ color: C_RED }}>0.009;</span> <span style={{ color: C_TEAL }}>0.012</span></Txt>

      {/* (F) */}
      <Txt x={1818} y={2703} size={80}>(F)</Txt>
      <Txt x={1870} y={3000} size={38} anchor="middle" rotate={-90}>C57BL/6J-MC38</Txt>
      <Txt x={1870} y={3489} size={38} anchor="middle" rotate={-90}>BALB/c-CT26</Txt>
      <Txt x={1941} y={3000} size={32} anchor="middle" rotate={-90}>Normalized to counts (%)</Txt>
      <Txt x={1941} y={3463} size={32} anchor="middle" rotate={-90}>Normalized to counts (%)</Txt>
      <Pos x={1997} y={2827}><Histo pnk={pnk1} crc={crc1} base={PNK_BASE1} boxH={317} /></Pos>
      <Pos x={1997} y={3297}><Histo pnk={pnk2} crc={crc2} base={PNK_BASE2} boxH={322} /></Pos>
      <Txt x={2320} y={3034} size={38} color="#e8636b">p-NK</Txt>
      <Txt x={2320} y={3142} size={38} color="#3aa8c1">CRC-NK</Txt>
      <Txt x={2320} y={3494} size={38} color="#e8636b">p-NK</Txt>
      <Txt x={2320} y={3605} size={38} color="#3aa8c1">CRC-NK</Txt>
      <Txt x={2158} y={3225} size={40} anchor="middle">PE-IFNγ</Txt>
      <Txt x={2158} y={3696} size={40} anchor="middle">PE-IFNγ</Txt>
      <Txt x={2503} y={2988} size={31} anchor="middle" rotate={-90}>Mean fluorescence intensity</Txt>
      <Txt x={2503} y={3482} size={31} anchor="middle" rotate={-90}>Mean fluorescence intensity</Txt>
      <Pos x={2480} y={2832}><MfiBars vals={mfi1} errs={mfi1Err} max={1500} ticks={[0, 500, 1000, 1500]} brackets={[1234, 1326, 383]} /></Pos>
      <Pos x={2480} y={3322}><MfiBars vals={mfi2} errs={mfi2Err} max={2500} ticks={[0, 500, 1000, 1500, 2000, 2500]} brackets={[2450, 2551, 777]} /></Pos>
      <Txt x={2721} y={2875} size={26} anchor="middle">****</Txt>
      <Txt x={2721} y={3324} size={26} anchor="middle">****</Txt>
    </div>
  );
}
